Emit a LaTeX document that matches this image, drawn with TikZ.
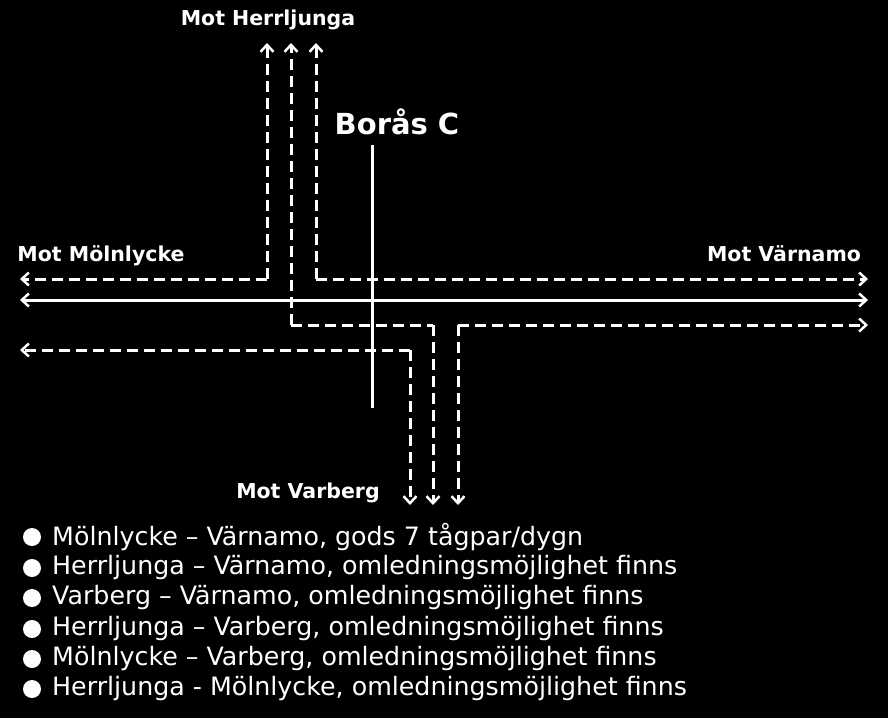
\documentclass[tikz,border=0pt]{standalone}
\usepackage{fontspec}
\setmainfont{DejaVu Sans}
\usetikzlibrary{arrows.meta}
\begin{document}
\begin{tikzpicture}[x=1pt,y=-1pt,
  trk/.style={white,line width=3pt,line join=miter},
  dsh/.style={trk,dash pattern=on 11pt off 6pt},
  arr/.style={-{Straight Barb[length=7pt,width=13pt,line width=2.5pt]}},
  lbl/.style={white,font=\bfseries\fontsize{20.5}{24}\selectfont},
  leg/.style={white,anchor=west,font=\fontsize{25.3}{28}\selectfont,inner sep=0pt}]
\fill[black] (0,0) rectangle (888,718);
\useasboundingbox (0,0) rectangle (888,718);
% coordinates
\coordinate (mL) at (20,279); \coordinate (c1) at (267,279); \coordinate (h1) at (267,43);
\coordinate (h2) at (291,43); \coordinate (c2) at (291,325); \coordinate (c2b) at (433,325); \coordinate (v2) at (433,505);
\coordinate (h3) at (316,43); \coordinate (c3) at (316,279); \coordinate (e3) at (868,279);
\coordinate (mL4) at (20,350); \coordinate (c4) at (410,350); \coordinate (v4) at (410,505);
\coordinate (e5) at (868,325); \coordinate (c5) at (458,325); \coordinate (v5) at (458,505);
\coordinate (sL) at (20,300); \coordinate (sR) at (868,300);
\coordinate (bt) at (372,145); \coordinate (bb) at (372,408);
% solid
\draw[trk,{Straight Barb[length=7pt,width=13pt,line width=2.5pt]}-{Straight Barb[length=7pt,width=13pt,line width=2.5pt]}] (sL) -- (sR);
\draw[trk] (bt) -- (bb);
% dashed
\draw[dsh,arr] (c1) -- (mL);
\draw[dsh,arr] (c1) -- (h1);
\draw[dsh,arr] (c2) -- (h2);
\draw[dsh] (c2) -- (c2b);
\draw[dsh,arr] (c2b) -- (v2);
\draw[dsh,arr] (c3) -- (h3);
\draw[dsh,arr] (c3) -- (e3);
\draw[dsh,arr] (c4) -- (mL4);
\draw[dsh,arr] (c4) -- (v4);
\draw[dsh,arr] (c5) -- (e5);
\draw[dsh,arr] (c5) -- (v5);
% labels
\node[lbl] (lh) at (268,20) {Mot Herrljunga};
\node[white,font=\bfseries\fontsize{29}{34}\selectfont] (lb) at (397,122) {Borås C};
\node[lbl] (lm) at (101,256) {Mot Mölnlycke};
\node[lbl] (lv) at (784,254) {Mot Värnamo};
\node[lbl] (lva) at (308,493) {Mot Varberg};
% legend
\foreach \y/\t [count=\i] in {537/{Mölnlycke – Värnamo, gods 7 tågpar/dygn},
  568/{Herrljunga – Värnamo, omledningsmöjlighet finns},
  598/{Varberg – Värnamo, omledningsmöjlighet finns},
  629/{Herrljunga – Varberg, omledningsmöjlighet finns},
  659/{Mölnlycke – Varberg, omledningsmöjlighet finns},
  689/{Herrljunga - Mölnlycke, omledningsmöjlighet finns}}{
  \fill[white] (32,\y) circle (9pt);
  \node[leg] (t\i) at (52,\y) {\t};
}
\end{tikzpicture}
\end{document}
